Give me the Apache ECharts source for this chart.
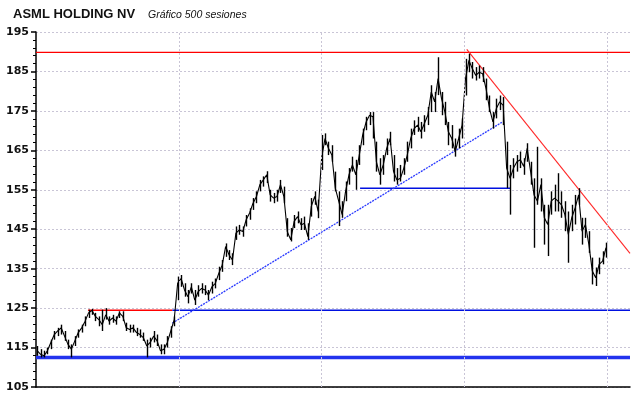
<!DOCTYPE html>
<html><head><meta charset="utf-8">
<script src="https://cdn.jsdelivr.net/npm/echarts@6/dist/echarts.min.js"></script>
<style>html,body{margin:0;padding:0;background:#fff}#c{width:640px;height:398px}</style>
</head><body><div id="c"></div>
<script>
// session index of first point and step between points (500 sessions)
const firstSession = 1;
const sessionStep = 3;
// closing prices, one every 3 sessions
const closes = [
114.2,113.3,112.9,114.2,116.3,118.3,119.2,120.0,117.9,115.8,
114.6,116.7,118.8,120.0,121.7,123.8,124.4,122.9,122.1,120.8,
123.3,121.7,122.5,121.7,123.8,122.9,120.0,119.6,120.0,118.8,
118.3,117.5,115.4,116.3,117.9,116.7,114.2,114.6,116.3,119.2,
122.1,
131.3,132.5,129.6,127.9,130.4,127.0,129.2,130.0,129.6,128.3,
130.4,131.3,133.8,135.9,140.6,138.5,137.2,144.0,144.8,144.4,
147.4,149.1,151.6,153.3,156.3,157.5,158.8,153.7,152.9,153.3,
156.3,153.3,144.4,142.3,147.0,148.2,146.1,146.5,143.1,150.8,
153.3,149.5,
163.0,168.0,165.5,163.8,155.4,152.1,148.7,154.6,158.8,161.3,
158.8,163.8,168.9,172.2,173.9,173.5,162.1,158.8,161.3,165.5,
168.0,159.6,157.5,157.9,160.5,163.8,168.0,170.5,171.4,169.7,
171.8,173.9,179.8,177.3,183.2,178.1,174.7,169.7,168.0,164.7,
168.0,171.4,
183.2,187.8,185.7,184.0,184.8,184.4,180.6,175.6,172.2,175.6,
177.3,176.4,160.5,157.9,160.5,162.1,162.6,160.9,165.5,159.6,
153.7,152.1,156.3,147.9,146.2,152.1,152.9,152.1,151.2,148.7,
143.7,147.9,150.4,153.7,144.5,146.2,141.1,134.4,132.7,136.1,
136.9,140.3
];
// session highs (same sessions as closes)
const highs = [
115.4,114.6,114.2,115.0,117.0,119.2,120.0,120.8,119.2,117.0,
115.8,117.9,119.6,120.8,122.9,124.6,124.8,123.8,122.9,124.6,
125.0,122.9,123.3,122.9,124.2,124.2,121.3,120.8,120.8,120.0,
119.6,118.8,117.0,117.5,119.2,118.3,115.8,115.8,117.9,120.4,
122.9,
133.0,133.4,131.3,129.6,131.3,129.6,130.8,131.3,130.8,129.6,
131.7,132.5,135.5,137.2,141.4,139.7,138.9,145.7,146.1,145.7,
148.6,150.3,152.9,154.6,157.5,158.4,159.7,155.0,154.2,155.0,
157.5,155.8,147.8,145.3,148.6,149.5,147.8,148.2,146.5,152.9,
154.6,152.5,
168.9,169.3,167.2,166.3,159.6,154.6,152.1,157.1,160.5,163.4,
162.6,166.3,170.5,173.5,174.7,174.7,167.2,163.0,163.8,168.0,
169.7,163.8,160.5,161.3,163.0,167.2,170.5,172.6,173.5,172.2,
173.9,176.0,181.5,179.8,188.6,179.8,177.3,172.2,171.4,168.0,
170.5,173.1,
188.2,189.5,187.4,186.1,186.5,186.1,183.2,178.9,174.7,178.1,
178.9,178.5,167.2,161.3,163.0,163.8,164.7,163.0,166.8,162.1,
157.9,165.9,157.9,151.2,151.2,154.6,156.3,159.2,154.6,152.1,
149.5,151.2,153.7,155.4,147.9,147.9,144.5,137.8,135.3,137.8,
139.4,141.6
];
// session lows (same sessions as closes)
const lows = [
112.9,112.5,112.5,113.3,114.6,117.0,117.9,118.3,116.7,114.6,
112.5,115.4,117.5,118.8,120.4,122.5,123.3,121.7,120.4,119.2,
122.1,120.8,121.3,120.8,122.5,121.7,119.2,118.8,118.8,117.9,
117.5,116.7,112.5,115.0,116.3,115.4,113.3,113.3,115.0,117.5,
120.4,
127.0,130.4,127.9,126.2,128.7,125.8,127.9,128.7,128.3,127.0,
128.7,130.0,132.1,134.2,138.0,137.2,135.9,142.3,143.6,143.1,
145.7,147.4,149.9,151.6,154.6,155.8,156.7,152.0,151.6,152.0,
154.2,151.6,143.1,141.9,145.3,146.5,144.8,144.8,142.3,148.2,
151.2,147.8,
160.0,166.3,163.8,162.1,154.6,145.8,147.9,152.1,156.3,159.6,
155.0,161.3,166.3,170.1,171.4,168.0,159.6,156.3,158.8,163.8,
166.3,157.1,156.3,157.1,158.8,162.1,165.5,168.9,169.7,168.0,
169.7,171.4,174.7,174.7,179.0,173.9,171.4,166.3,165.5,163.4,
165.5,168.0,
178.9,184.8,183.2,182.7,183.2,182.3,177.7,174.7,170.5,173.1,
175.2,171.4,155.4,148.7,157.9,159.6,160.5,158.8,162.1,156.3,
140.3,151.2,149.5,141.1,138.2,148.7,149.5,149.5,147.9,144.5,
136.5,144.5,146.2,151.2,141.1,142.8,139.0,131.0,130.6,133.6,
136.1,137.8
];
// y axis ticks
const yMin = 105, yMax = 195, yStep = 10;
// x axis extent in sessions and vertical grid positions
const xMax = 520;
const vGridAt = [125, 250, 375, 500];
// support / resistance lines: [startSession, startValue, endSession, endValue]
const redTop = [0, 189.85, 520, 189.85];
const blueBottom = [0, 112.5, 520, 112.5];
const redShort = [45.5, 124.45, 119.4, 124.45];
const blueMid = [119.4, 124.45, 520, 124.45];
const blueTrend = [119.4, 121.2, 407.8, 172.1];
const blueNeck = [283.7, 155.4, 415, 155.4];
const redTrend = [377.1, 190.6, 520, 138.9];

const sessionOf = k => firstSession + k * sessionStep;
const priceData = closes.map((v, k) => [sessionOf(k), v]);
const rangeData = closes.map((v, k) => [sessionOf(k), lows[k], highs[k]]);
function seg(l, color, width, type) {
  return {
    type: 'line', data: [[l[0], l[1]], [l[2], l[3]]], symbol: 'none', silent: true,
    lineStyle: { color: color, width: width, type: type || 'solid' }, z: 3
  };
}
const gridStyle = { color: '#c9c5d6', width: 1, type: [2, 2] };
const chart = echarts.init(document.getElementById('c'), null, { renderer: 'canvas' });
chart.setOption({
  animation: false,
  backgroundColor: '#ffffff',
  title: [
    { text: 'ASML HOLDING NV', left: 8, top: 3,
      textStyle: { fontFamily: 'Liberation Sans', fontWeight: 'bold', fontSize: 13, color: '#111' } },
    { text: 'Gráfico 500 sesiones', left: 143, top: 5,
      textStyle: { fontFamily: 'Liberation Sans', fontStyle: 'italic', fontWeight: 'normal', fontSize: 10.5, color: '#111' } }
  ],
  grid: { left: 36, top: 32, right: 10, bottom: 11, containLabel: false },
  xAxis: {
    type: 'value', min: 0, max: xMax,
    axisLine: { show: true, lineStyle: { color: '#000', width: 1.5 } },
    axisTick: { show: false }, axisLabel: { show: false },
    splitLine: { show: false }
  },
  yAxis: {
    type: 'value', min: yMin, max: yMax, interval: yStep,
    axisLine: { show: true, lineStyle: { color: '#000', width: 1.5 } },
    axisTick: { show: true, length: 5, lineStyle: { color: '#000', width: 1.5 } },
    minorTick: { show: true, splitNumber: 5, length: 3, lineStyle: { color: '#000', width: 1 } },
    axisLabel: { margin: 7, fontFamily: 'DejaVu Sans', fontWeight: 'bold', fontSize: 11, color: '#111' },
    splitLine: { show: true, lineStyle: gridStyle }
  },
  series: [
    {
      type: 'line', data: [], silent: true,
      markLine: {
        silent: true, symbol: 'none', label: { show: false },
        lineStyle: gridStyle,
        data: vGridAt.map(v => ({ xAxis: v }))
      }
    },
    seg(redTop, '#ff0000', 1.2),
    seg(blueBottom, '#2233ee', 3.5),
    seg(redShort, '#ff0000', 1.5),
    seg(blueMid, '#0010e0', 1.5),
    seg(blueNeck, '#0010e0', 1.5),
    seg(blueTrend, '#2a3aff', 1.3, [2, 1]),
    seg(redTrend, '#ff2a2a', 1.1),
    {
      type: 'custom', data: rangeData, silent: true, z: 4,
      encode: { x: 0, y: [1, 2] },
      renderItem: function (params, api) {
        const lo = api.coord([api.value(0), api.value(1)]);
        const hi = api.coord([api.value(0), api.value(2)]);
        const x = Math.round(lo[0]) + 0.5;
        return {
          type: 'line',
          shape: { x1: x, y1: lo[1], x2: x, y2: hi[1] },
          style: { stroke: '#000', lineWidth: 1.4 }
        };
      }
    },
    {
      type: 'line', data: priceData, symbol: 'none', silent: true,
      lineStyle: { color: '#000', width: 1.1 }, z: 4
    }
  ]
});
</script></body></html>
